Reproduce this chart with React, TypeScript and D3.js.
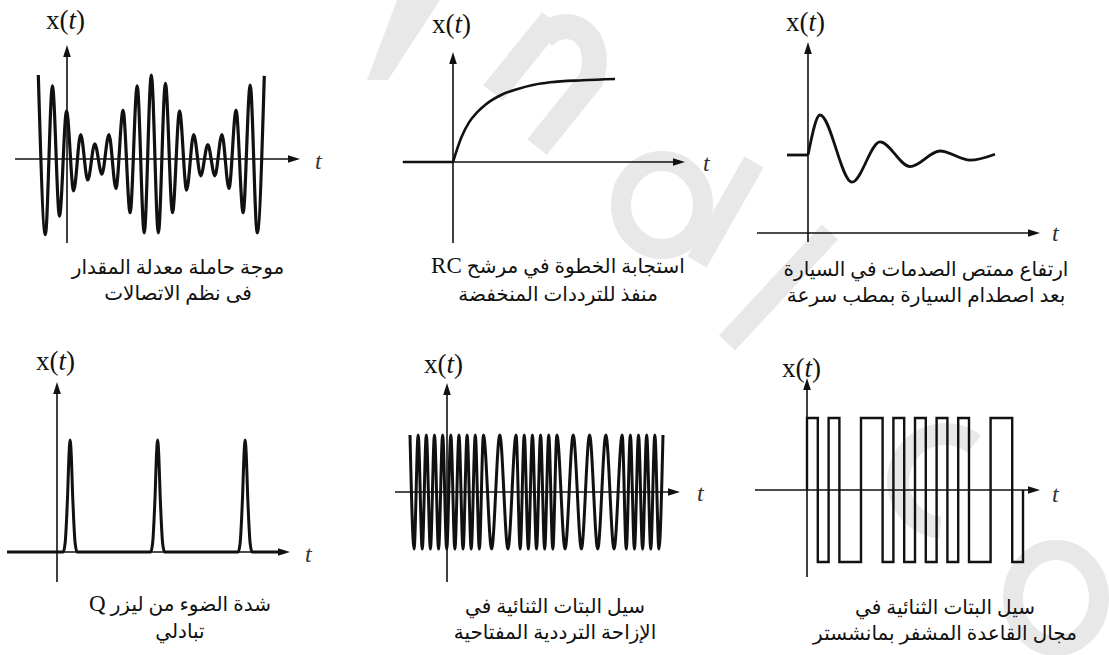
import React from "react";
import * as d3 from "d3";

// ---- signal data -------------------------------------------------------

// Amplitude-modulated carrier: signed extremum of every half carrier cycle
const AM_VALUES = [
  1.0, -0.9, 0.87, -0.68, 0.57, -0.38, 0.29, -0.25, 0.18, -0.18, 0.29, -0.35,
  0.58, -0.64, 0.87, -0.88, 1.0, -0.88, 0.9, -0.64, 0.57, -0.37, 0.29, -0.2,
  0.17, -0.2, 0.29, -0.35, 0.58, -0.64, 0.88, -0.88, 0.99,
];

// RC low-pass step response samples
const RC_T = [0, 0.5, 1, 1.5, 2, 3, 4, 5, 6, 8, 10];
const RC_V = [0, 0.29, 0.48, 0.6, 0.69, 0.81, 0.88, 0.93, 0.96, 0.985, 1.0];

// Shock absorber displacement: extrema of the damped oscillation
const SHOCK_T = [0, 1.2, 4.4, 7.2, 10.2, 13.2, 16.2, 18.7];
const SHOCK_V = [0, 1.0, -0.68, 0.33, -0.29, 0.1, -0.13, 0.02];

// Q-switched laser pulses
const PULSE_CENTERS = [0.15, 1.15, 2.15];
const PULSE_OFFSETS = [-0.08, -0.057, -0.04, -0.029, -0.014, 0, 0.014, 0.029, 0.04, 0.057, 0.08];
const PULSE_SHAPE = [0, 0.08, 0.3, 0.5, 0.85, 1, 0.85, 0.5, 0.3, 0.08, 0];

// FSK: length of every carrier cycle (1 = mark frequency, 2 = space frequency)
const FSK_CYCLES = [
  1, 1, 1, 1, 1, 1, 1, 1, 1,
  2, 2,
  1, 1, 1, 1, 1,
  2, 2, 2, 2,
  1, 1, 1, 1, 1,
];

// Manchester-coded bit stream (1 = high then low)
const MANCHESTER_BITS = [1, 1, 0, 1, 1, 1, 1, 1, 0, 1];

// Captions (two lines each)
const CAPTIONS: [string, string][] = [
  ["موجة حاملة معدلة المقدار", "فى نظم الاتصالات"],
  ["استجابة الخطوة في مرشح RC", "منفذ للترددات المنخفضة"],
  ["ارتفاع ممتص الصدمات في السيارة", "بعد اصطدام السيارة بمطب سرعة"],
  ["شدة الضوء من ليزر Q", "تبادلي"],
  ["سيل البتات الثنائية في", "الإزاحة الترددية المفتاحية"],
  ["سيل البتات الثنائية في", "مجال القاعدة المشفر بمانشستر"],
];

// ---- layout ------------------------------------------------------------

const W = 1109;
const H = 655;
const INK = "#111";
const WM = "#e8e8e8";
const SERIF = "'Liberation Serif', 'Times New Roman', serif";
const ARABIC = "'Liberation Serif', 'DejaVu Sans', sans-serif";

type Frame = {
  ox: number; // y-axis x position
  oy: number; // x-axis y position
  top: number;
  bottom: number;
  left: number;
  right: number;
  label: [number, number]; // x(t) label left / baseline
  tLabel: [number, number];
  caption: [number, number, number]; // center x, baseline 1, baseline 2
};

const FRAMES: Frame[] = [
  { ox: 67, oy: 159, top: 45, bottom: 243, left: 15, right: 300, label: [46, 29], tLabel: [315, 169], caption: [178, 274, 300] },
  { ox: 453, oy: 162, top: 52, bottom: 243, left: 403, right: 685, label: [432, 33], tLabel: [703, 171], caption: [558, 273, 301] },
  { ox: 808, oy: 233, top: 42, bottom: 242, left: 757, right: 1040, label: [786, 31], tLabel: [1052, 241], caption: [926, 276, 302] },
  { ox: 57, oy: 552, top: 382, bottom: 582, left: 7, right: 290, label: [36, 370], tLabel: [305, 562], caption: [180, 611, 638] },
  { ox: 447, oy: 492, top: 383, bottom: 582, left: 395, right: 680, label: [424, 373], tLabel: [697, 501], caption: [555, 613, 639] },
  { ox: 807, oy: 490, top: 378, bottom: 577, left: 755, right: 1040, label: [782, 377], tLabel: [1052, 502], caption: [945, 614, 640] },
];

type Pt = [number, number];

function Axes({ f }: { f: Frame }) {
  return (
    <g>
      <line x1={f.ox} y1={f.top + 8} x2={f.ox} y2={f.bottom} stroke={INK} strokeWidth={1.6} />
      <path d={`M${f.ox},${f.top} L${f.ox - 3.8},${f.top + 12} L${f.ox + 3.8},${f.top + 12} Z`} fill={INK} />
      <line x1={f.left} y1={f.oy} x2={f.right - 8} y2={f.oy} stroke={INK} strokeWidth={1.6} />
      <path d={`M${f.right},${f.oy} L${f.right - 12},${f.oy - 3.8} L${f.right - 12},${f.oy + 3.8} Z`} fill={INK} />
      <text x={f.label[0]} y={f.label[1]} fontFamily={SERIF} fontSize={27} fill={INK}>
        x(<tspan fontStyle="italic">t</tspan>)
      </text>
      <text x={f.tLabel[0]} y={f.tLabel[1]} fontFamily={SERIF} fontSize={24} fontStyle="italic" fill="#333">
        t
      </text>
    </g>
  );
}

// Latin runs (RC, Q) are set a little larger in the serif face
function CaptionLine({ x, y, text }: { x: number; y: number; text: string }) {
  const parts = text.split(/([A-Za-z]+)/).filter((p) => p.length > 0);
  return (
    <text x={x} y={y} direction="rtl">
      {parts.map((p, i) =>
        /^[A-Za-z]+$/.test(p) ? (
          <tspan key={i} fontSize={23}>{p}</tspan>
        ) : (
          <tspan key={i}>{p}</tspan>
        )
      )}
    </text>
  );
}

function Caption({ f, lines }: { f: Frame; lines: [string, string] }) {
  return (
    <g fontFamily={ARABIC} fontSize={20} fill={INK} textAnchor="middle">
      <CaptionLine x={f.caption[0]} y={f.caption[1]} text={lines[0]} />
      <CaptionLine x={f.caption[0]} y={f.caption[2]} text={lines[1]} />
    </g>
  );
}

export default function App() {
  const smooth = (xs: d3.ScaleLinear<number, number>, ys: d3.ScaleLinear<number, number>) =>
    d3.line<Pt>().x((d) => xs(d[0])).y((d) => ys(d[1])).curve(d3.curveMonotoneX);

  // Panel 1: AM carrier
  const f1 = FRAMES[0];
  const x1 = d3.scaleLinear().domain([0, 16]).range([38.3, 264.3]);
  const y1 = d3.scaleLinear().domain([-1, 1]).range([f1.oy + 84, f1.oy - 84]);
  const amPath = smooth(x1, y1)(AM_VALUES.map((v, i) => [i * 0.5, v] as Pt)) || "";

  // Panel 2: RC step response
  const f2 = FRAMES[1];
  const x2 = d3.scaleLinear().domain([0, 10]).range([f2.ox, 615]);
  const y2 = d3.scaleLinear().domain([0, 1]).range([f2.oy, 79]);
  const rcPath = smooth(x2, y2)(RC_T.map((t, i) => [t, RC_V[i]] as Pt)) || "";
  const rcLead = d3.line<Pt>().x((d) => x2(d[0])).y((d) => y2(d[1]))([[-3.1, 0], [0, 0]]) || "";

  // Panel 3: damped oscillation
  const f3 = FRAMES[2];
  const x3 = d3.scaleLinear().domain([0, 10]).range([f3.ox, f3.ox + 100]);
  const y3 = d3.scaleLinear().domain([-1, 1]).range([155 + 40, 155 - 40]);
  const shockPath = smooth(x3, y3)(SHOCK_T.map((t, i) => [t, SHOCK_V[i]] as Pt)) || "";
  const shockLead = d3.line<Pt>().x((d) => x3(d[0])).y((d) => y3(d[1]))([[-2.1, 0], [0, 0]]) || "";

  // Panel 4: laser pulses
  const f4 = FRAMES[3];
  const x4 = d3.scaleLinear().domain([0, 1]).range([f4.ox, f4.ox + 87.5]);
  const y4 = d3.scaleLinear().domain([0, 1]).range([f4.oy, 440]);
  const pulsePts: Pt[] = [[-0.57, 0]];
  PULSE_CENTERS.forEach((c) => PULSE_OFFSETS.forEach((o, i) => pulsePts.push([c + o, PULSE_SHAPE[i]])));
  pulsePts.push([2.55, 0]);
  const pulsePath = smooth(x4, y4)(pulsePts) || "";

  // Panel 5: FSK
  const f5 = FRAMES[4];
  const total5 = d3.sum(FSK_CYCLES);
  const x5 = d3.scaleLinear().domain([0, total5]).range([410, 663]);
  const y5 = d3.scaleLinear().domain([-1, 1]).range([f5.oy + 57, f5.oy - 57]);
  const fskPts: Pt[] = [];
  let acc = 0;
  FSK_CYCLES.forEach((len) => {
    fskPts.push([acc, 1]);
    fskPts.push([acc + len / 2, -1]);
    acc += len;
  });
  fskPts.push([acc, 1]);
  const fskPath = smooth(x5, y5)(fskPts) || "";

  // Panel 6: Manchester code
  const f6 = FRAMES[5];
  const halves = MANCHESTER_BITS.flatMap((b) => (b ? [1, -1] : [-1, 1]));
  const x6 = d3.scaleLinear().domain([0, halves.length]).range([f6.ox, 1023]);
  const y6 = d3.scaleLinear().domain([-1, 1]).range([f6.oy + 72, f6.oy - 72]);
  const manPts: Pt[] = [[0, 0], ...halves.map((v, i) => [i, v] as Pt), [halves.length, 0]];
  const manPath =
    d3.line<Pt>().x((d) => x6(d[0])).y((d) => y6(d[1])).curve(d3.curveStepAfter)(manPts) || "";

  const wave = { fill: "none", stroke: INK, strokeLinejoin: "round" as const };

  return (
    <svg
      width={W}
      height={H}
      viewBox={`0 0 ${W} ${H}`}
      style={{ position: "absolute", left: 0, top: 0, background: "#fff" }}
    >
      <rect width={W} height={H} fill="#fff" />

      {/* background watermark lettering */}
      <g fill="none" stroke={WM}>
        <path d="M397,0 L440,0 L388,80 L367,80 Z" fill={WM} stroke="none" />
        <path d="M493,93 L552,20" strokeWidth={25} />
        <path d="M543,37 C568,12 606,34 591,80 L537,147" strokeWidth={25} />
        <ellipse cx={662} cy={205} rx={41} ry={44} strokeWidth={20} />
        <path d="M754,162 L697,262" strokeWidth={22} />
        <path d="M830,232 L727,343" strokeWidth={22} />
        <path d="M974.3,444.2 A47,47 0 1 0 940.3,527.8" strokeWidth={22} />
        <ellipse cx={1056} cy={598} rx={43} ry={48} strokeWidth={20} />
      </g>

      {FRAMES.map((f, i) => (
        <g key={i}>
          <Axes f={f} />
          <Caption f={f} lines={CAPTIONS[i]} />
        </g>
      ))}

      <path d={amPath} {...wave} strokeWidth={3.2} />
      <path d={rcLead} {...wave} strokeWidth={2.6} />
      <path d={rcPath} {...wave} strokeWidth={2.6} />
      <path d={shockLead} {...wave} strokeWidth={2.8} />
      <path d={shockPath} {...wave} strokeWidth={2.8} />
      <path d={pulsePath} {...wave} strokeWidth={3} />
      <path d={fskPath} {...wave} strokeWidth={3} />
      <path d={manPath} {...wave} strokeWidth={2.4} strokeLinejoin="miter" />
    </svg>
  );
}
